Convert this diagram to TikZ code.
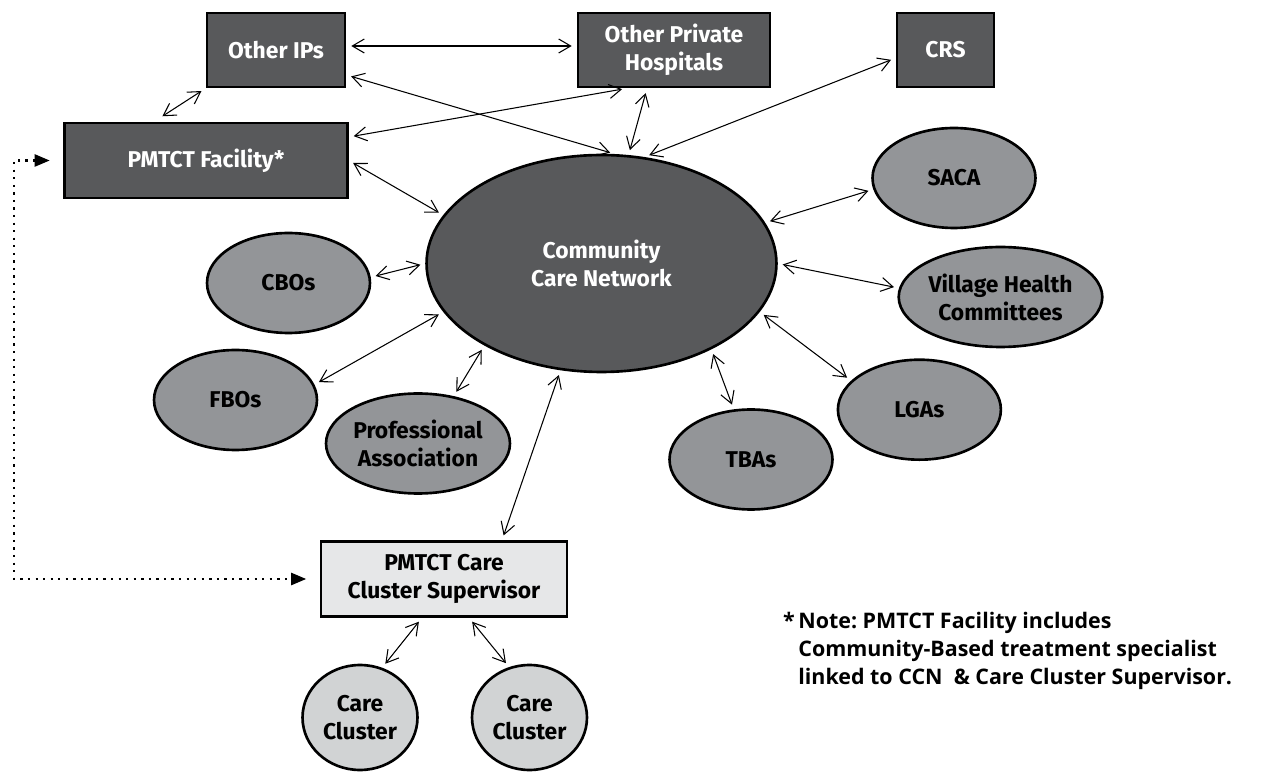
\documentclass[tikz,border=0pt]{standalone}
\usepackage{fontspec}
\setmainfont{Fira Sans}
\newfontfamily\notefont{Open Sans}
\usetikzlibrary{arrows.meta,shapes.geometric}
\definecolor{boxgray}{HTML}{58595B}
\definecolor{orggray}{HTML}{939598}
\definecolor{supgray}{HTML}{E6E7E8}
\definecolor{clgray}{HTML}{D1D3D4}
\frenchspacing

\begin{document}
\begin{tikzpicture}[
  x=0.02cm,y=-0.02cm,
  box/.style={draw,line width=1.5pt,fill=boxgray,text=white,inner sep=0pt,align=center,font=\bfseries\fontsize{13}{16}\selectfont},
  org/.style={ellipse,draw,line width=1.5pt,fill=orggray,inner sep=0pt,align=center,minimum width=3.26cm,minimum height=2cm,font=\bfseries\fontsize{13}{16}\selectfont},
  arr/.style={{Straight Barb[length=2.4mm,width=2.8mm]}-{Straight Barb[length=2.4mm,width=2.8mm]},line width=0.6pt,shorten <=1mm,shorten >=1mm},
  dotarr/.style={{Triangle[length=3mm,width=2.4mm]}-{Triangle[length=3mm,width=2.4mm]},line width=1.3pt,dash pattern=on 1.3pt off 3pt,shorten <=2.7mm,shorten >=2.7mm}
]
\useasboundingbox (0,0) rectangle (1264,776);
% top row
\node[box,minimum width=2.76cm,minimum height=1.48cm] (oips) at (276,50) {Other IPs};
\node[box,minimum width=3.84cm,minimum height=1.48cm] (oph)  at (674,50) {Other Private\\Hospitals};
\node[box,minimum width=1.94cm,minimum height=1.48cm] (crs)  at (945.5,50) {CRS};
\node[box,minimum width=5.66cm,minimum height=1.5cm]  (fac)  at (206,160.5) {PMTCT Facility*};
% network
\node[org,fill=boxgray,text=white,minimum width=7cm,minimum height=4.34cm] (ccn) at (601.5,263.5) {Community\\Care Network};
\node[org] (saca) at (954,178) {SACA};
\node[org,minimum width=3.98cm] (vhc) at (1000.5,297) {Village Health\\Committees};
\node[org] (lgas) at (919.4,409.7) {LGAs};
\node[org] (tbas) at (751,459.5) {TBAs};
\node[org] (cbos) at (288.5,283) {CBOs};
\node[org] (fbos) at (235.5,400) {FBOs};
\node[org,minimum width=3.68cm] (prof) at (418,443.5) {Professional\\Association};
% supervisor and clusters
\node[box,fill=supgray,text=black,minimum width=4.92cm,minimum height=1.5cm] (sup) at (444,579) {PMTCT Care\\Cluster Supervisor};
\node[org,fill=clgray,minimum width=2.3cm,minimum height=2.1cm] (cc1) at (360,717.5) {Care\\Cluster};
\node[org,fill=clgray,minimum width=2.3cm,minimum height=2.1cm] (cc2) at (529.5,717.5) {Care\\Cluster};
% note
\node[anchor=north west,inner sep=0pt,align=left,font=\notefont\bfseries\fontsize{12.2}{16}\selectfont] (note) at (798,612)
  {\llap{*\,}Note: PMTCT Facility includes\\Community-Based treatment specialist\\linked to CCN\ \ \& Care Cluster Supervisor.};

\draw[arr] ([yshift=0.08cm]oips.east) -- ([yshift=0.08cm]oph.west);
\draw[arr,shorten <=2mm] ([xshift=-1.04cm]fac.north) -- (oips.south west);
\draw[arr] ([yshift=-0.5cm]oips.east) -- (ccn.83);
\draw[arr] ([yshift=0.47cm]fac.east) -- ([xshift=-0.94cm]oph.south);
\draw[arr] ([xshift=-0.54cm]oph.south) -- (ccn.76);
\draw[arr] ([yshift=-0.16cm]crs.west) -- (ccn.68);
\draw[arr] (fac.east) -- (ccn.163);
\draw[arr] (cbos.4) -- (ccn.180);
\draw[arr] (fbos.11) -- (ccn.197);
\draw[arr] (prof.53) -- (ccn.215);
\draw[arr] ([xshift=1.16cm]sup.north) -- (ccn.249);
\draw[arr] (tbas.109) -- (ccn.322);
\draw[arr] (lgas.157) -- (ccn.343);
\draw[arr] (vhc.175) -- (ccn.0);
\draw[arr] (saca.188) -- (ccn.14);
\draw[arr] ([xshift=-0.44cm]sup.south) -- (cc1.66);
\draw[arr] ([xshift=0.5cm]sup.south) -- (cc2.112);
\draw[dotarr] (fac.west) -- ++(-0.98cm,0) |- (sup.west);
\end{tikzpicture}
\end{document}
